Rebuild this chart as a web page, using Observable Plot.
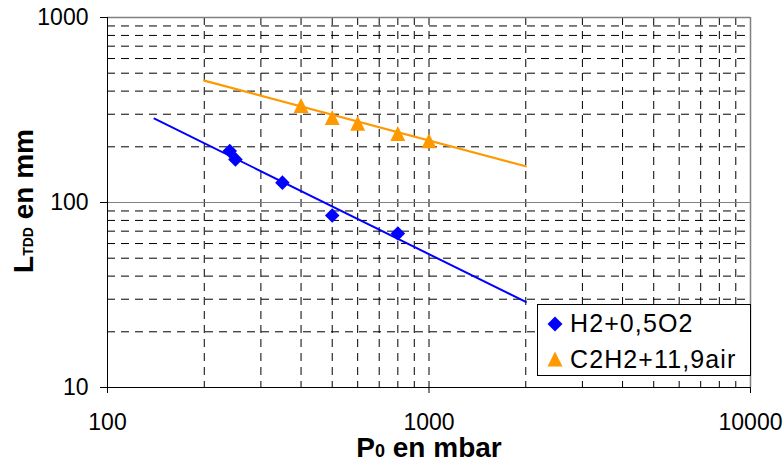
<!DOCTYPE html>
<html>
<head>
<meta charset="utf-8">
<script src="https://cdn.jsdelivr.net/npm/d3@7"></script>
<script src="https://cdn.jsdelivr.net/npm/@observablehq/plot@0.6"></script>
<style>
  html, body { margin: 0; padding: 0; background: #fff; }
  #wrap { position: relative; width: 783px; height: 464px; font-family: "Liberation Sans", Arial, sans-serif; }
  #legend { position: absolute; left: 537px; top: 304px; width: 214px; height: 72px; box-sizing: border-box; border: 1px solid #000; background: #fff; }
</style>
</head>
<body>
<div id="wrap"></div>
<script>
// ---- data ----
const seriesNames = ["H2+0,5O2", "C2H2+11,9air"];
const seriesColors = ["#0000FF", "#FF9900"];

const h2P = [240, 250, 350, 500, 800];
const h2L = [190, 171, 128, 85, 68];

const c2P = [400, 500, 600, 800, 1000];
const c2L = [334, 288, 268, 236, 216];

// trend lines (power fits), endpoints
const fitH2P = [140, 2000];
const fitH2L = [284, 29];
const fitC2P = [200, 2000];
const fitC2L = [456, 157];

// axis ticks and grid
const xTicks = [100, 1000, 10000];
const yTicks = [10, 100, 1000];
const xGrid = [200, 300, 400, 500, 600, 700, 800, 900, 1000, 2000, 3000, 4000, 5000, 6000, 7000, 8000, 9000];
const yGrid = [20, 30, 40, 50, 60, 70, 80, 90, 200, 300, 400, 500, 600, 700, 800, 900];

// ---- build tables ----
const h2 = h2P.map((p, i) => ({p, l: h2L[i]}));
const c2 = c2P.map((p, i) => ({p, l: c2L[i]}));
const fitH2 = fitH2P.map((p, i) => ({p, l: fitH2L[i]}));
const fitC2 = fitC2P.map((p, i) => ({p, l: fitC2L[i]}));

const diamondSym = {
  draw(ctx, size) {
    const a = Math.sqrt(size / Math.PI);
    ctx.moveTo(0, -a); ctx.lineTo(a, 0); ctx.lineTo(0, a); ctx.lineTo(-a, 0); ctx.closePath();
  }
};
const triangleSym = {
  draw(ctx, size) {
    const a = Math.sqrt(size / Math.PI);
    ctx.moveTo(0, -a); ctx.lineTo(a, a); ctx.lineTo(-a, a); ctx.closePath();
  }
};

const chart = Plot.plot({
  width: 783,
  height: 464,
  marginLeft: 107,
  marginRight: 33,
  marginTop: 17,
  marginBottom: 77,
  style: {fontFamily: "'Liberation Sans', Arial, sans-serif", fontSize: "23px", background: "#fff", color: "#000"},
  x: {type: "log", domain: [100, 10000], axis: null},
  y: {type: "log", domain: [10, 1000], axis: null},
  marks: [
    Plot.ruleY(yGrid, {stroke: "#000", strokeWidth: 1, strokeDasharray: "8,6"}),
    Plot.ruleX(xGrid, {stroke: "#000", strokeWidth: 1, strokeDasharray: "8,6"}),
    Plot.ruleY([100], {stroke: "#808080", strokeWidth: 1}),
    Plot.ruleY([1000], {stroke: "#808080", strokeWidth: 1.5}),
    Plot.ruleX([10000], {stroke: "#808080", strokeWidth: 1.5}),
    Plot.ruleX([100], {stroke: "#000", strokeWidth: 1}),
    Plot.ruleY([10], {stroke: "#000", strokeWidth: 1}),
    Plot.axisX({ticks: xTicks, tickSize: 6, tickPadding: 20, tickFormat: d3.format("d"), fontSize: 23, stroke: "#000", label: null}),
    Plot.axisY({ticks: yTicks, tickSize: 7, tickPadding: 12, tickFormat: d3.format("d"), fontSize: 23, stroke: "#000", label: null}),
    Plot.line(fitH2, {x: "p", y: "l", stroke: seriesColors[0], strokeWidth: 2}),
    Plot.line(fitC2, {x: "p", y: "l", stroke: seriesColors[1], strokeWidth: 2.2}),
    Plot.dot(h2, {x: "p", y: "l", symbol: diamondSym, r: 7.3, fill: seriesColors[0], stroke: "none"}),
    Plot.dot(c2, {x: "p", y: "l", symbol: triangleSym, r: 7.5, fill: seriesColors[1], stroke: "none"})
  ]
});

const wrap = document.getElementById("wrap");
wrap.appendChild(chart);

// axis titles with subscripts
const svg = d3.select(chart);
const xt = svg.append("text")
  .attr("x", 429).attr("y", 457)
  .attr("text-anchor", "middle")
  .attr("font-weight", "bold")
  .attr("font-size", 28)
  .attr("fill", "#000");
xt.append("tspan").text("P");
xt.append("tspan").attr("font-size", 18).text("0");
xt.append("tspan").text(" en mbar");

const yt = svg.append("text")
  .attr("transform", "translate(33,201) rotate(-90)")
  .attr("text-anchor", "middle")
  .attr("font-weight", "bold")
  .attr("font-size", 28)
  .attr("fill", "#000");
yt.append("tspan").text("L");
yt.append("tspan").attr("font-size", 14).text("TDD");
yt.append("tspan").text(" en mm");

// legend
const leg = document.createElement("div");
leg.id = "legend";
wrap.appendChild(leg);
const ls = d3.select(leg).append("svg").attr("width", 212).attr("height", 70)
  .style("position", "absolute").style("left", "0px").style("top", "0px");
const rows = [
  {name: seriesNames[0], color: seriesColors[0], sym: "M17,11.5L24.5,19L17,26.5L9.5,19Z", y: 18},
  {name: seriesNames[1], color: seriesColors[1], sym: "M17,46.5L24.5,61.5L9.5,61.5Z", y: 54}
];
rows.forEach(r => {
  ls.append("path").attr("d", r.sym).attr("fill", r.color);
  ls.append("text").attr("x", 32).attr("y", r.y).attr("dy", "0.35em")
    .attr("font-size", 25).attr("letter-spacing", "1.1px")
    .attr("font-family", "'Liberation Sans', Arial, sans-serif")
    .attr("fill", "#000").text(r.name);
});
</script>
</body>
</html>
